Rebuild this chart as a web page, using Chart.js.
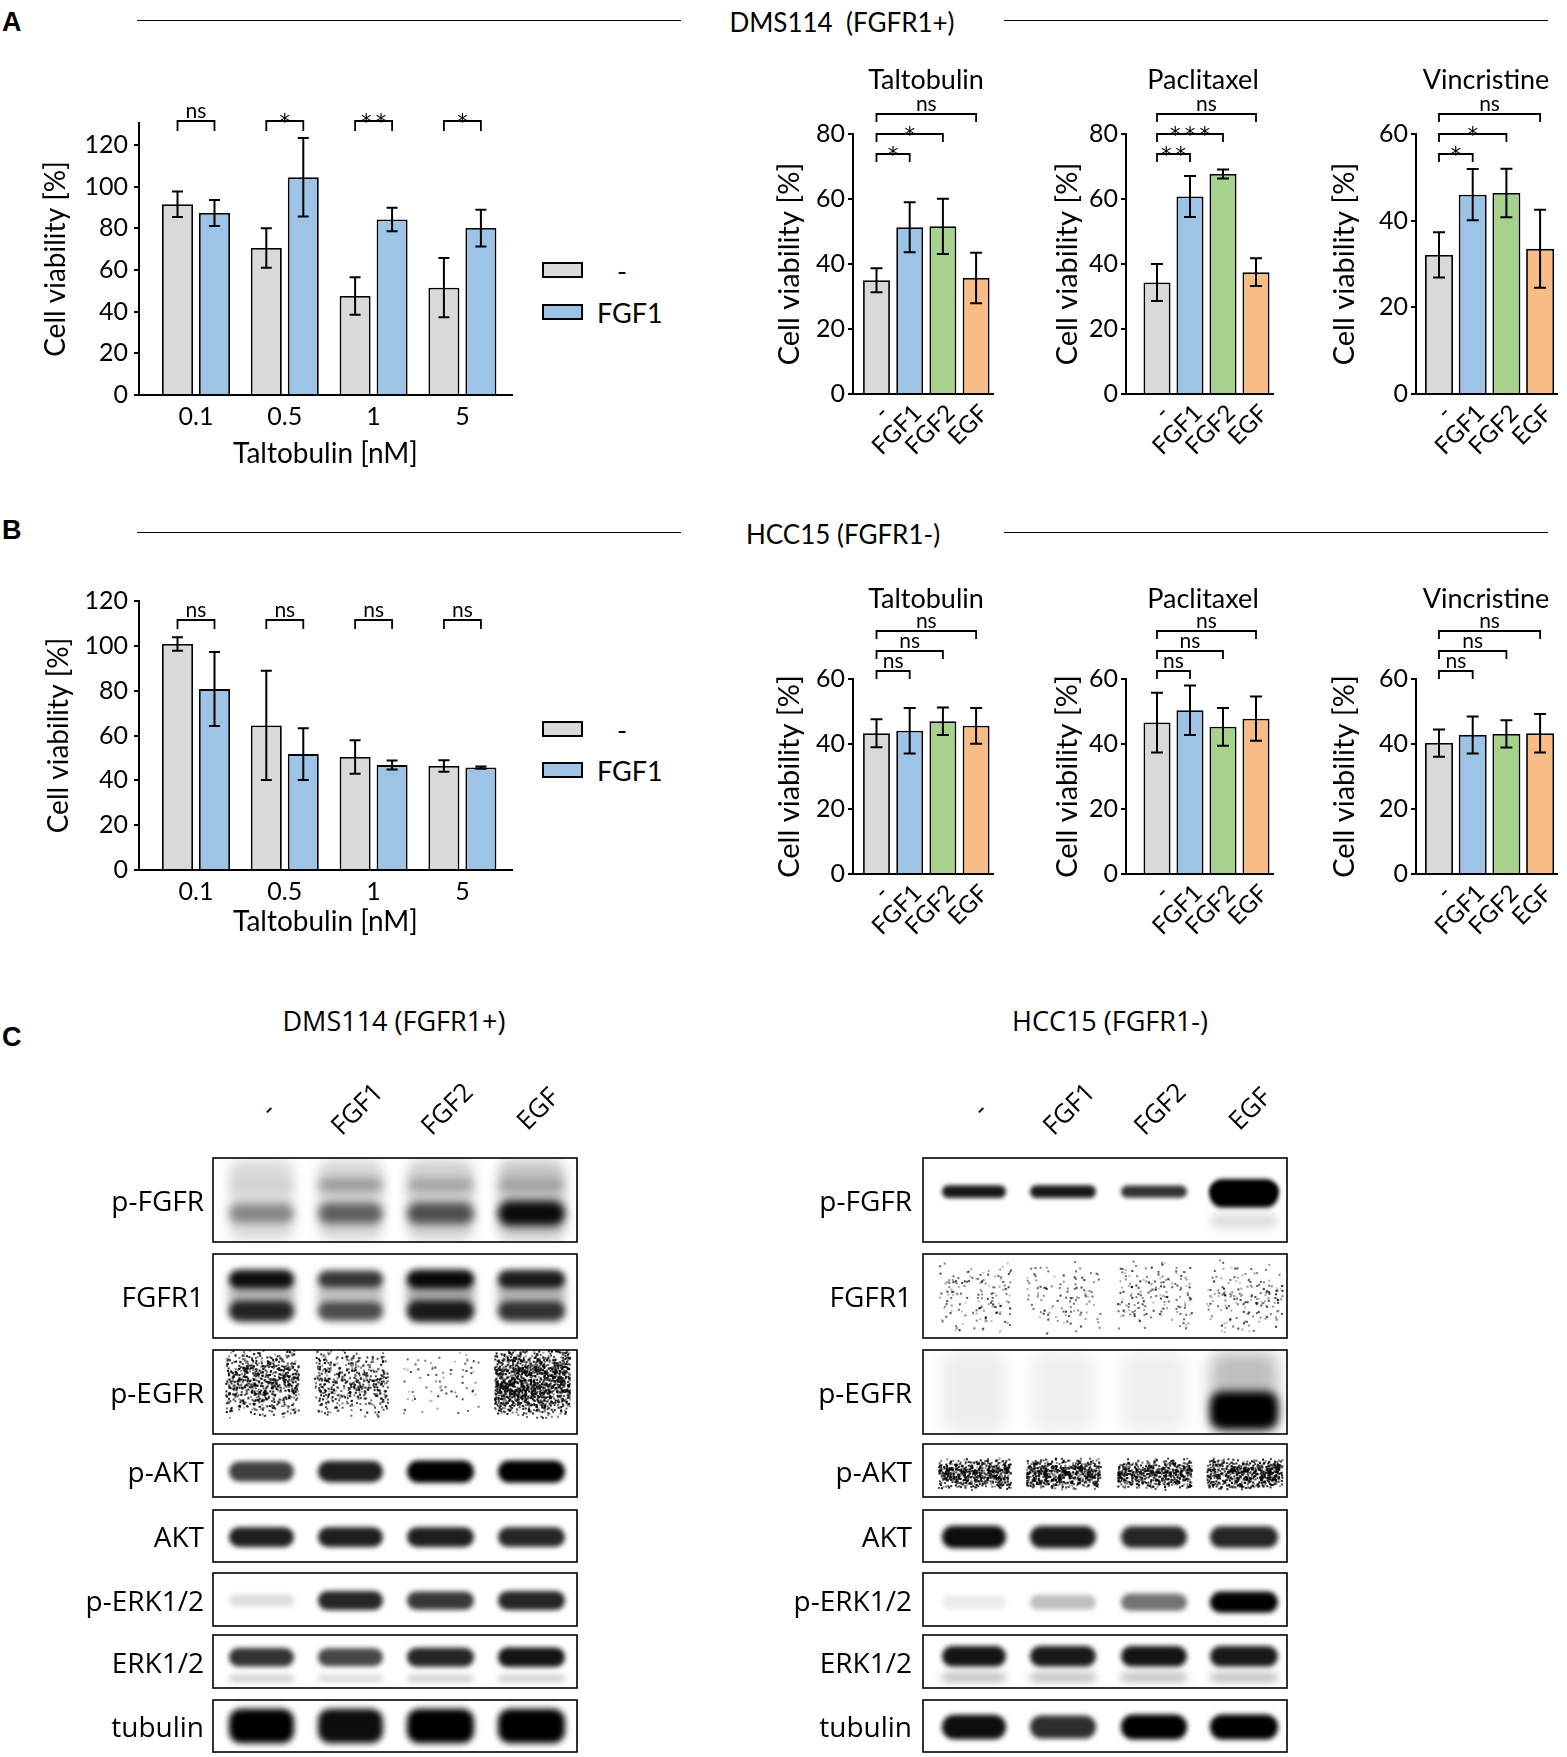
<!DOCTYPE html>
<html>
<head>
<meta charset="utf-8">
<script src="https://cdn.jsdelivr.net/npm/chart.js@4.4.1/dist/chart.umd.min.js"></script>
<style>
  body { margin: 0; background: #fff; }
  #fig { position: relative; width: 1567px; height: 1757px; overflow: hidden; color: #000; font-family: Lato, sans-serif; }
  #fig canvas { position: absolute; }
  .abs { position: absolute; white-space: nowrap; line-height: 1; }
  .rule { position: absolute; height: 0; border-top: 1.5px solid #000; }
  .key { position: absolute; width: 37px; height: 12px; border: 2px solid #000; }
</style>
</head>
<body>
<div id="fig"></div>
<script>
// ---- DATA ----
const doses = ["0.1", "0.5", "1", "5"];
const doseSeries = ["-", "FGF1"];
const factors = ["-", "FGF1", "FGF2", "EGF"];
const ticks120 = [0, 20, 40, 60, 80, 100, 120];
const ticks80 = [0, 20, 40, 60, 80];
const ticks60 = [0, 20, 40, 60];

// A: DMS114, taltobulin dose with / without FGF1
const dmsDoseCtrl = [91.5, 70.5, 47.5, 51.5];
const dmsDoseCtrlErr = [6.1, 9.5, 9.0, 14.2];
const dmsDoseFgf1 = [87.3, 104.5, 84.2, 80.1];
const dmsDoseFgf1Err = [6.2, 18.8, 5.6, 8.8];
const dmsDoseSig = ["ns", "*", "**", "*"];

// B: HCC15, taltobulin dose with / without FGF1
const hccDoseCtrl = [100.8, 64.5, 50.4, 46.4];
const hccDoseCtrlErr = [3.0, 24.4, 7.5, 2.6];
const hccDoseFgf1 = [80.7, 51.7, 46.8, 45.7];
const hccDoseFgf1Err = [16.5, 11.5, 2.0, 0.5];
const hccDoseSig = ["ns", "ns", "ns", "ns"];

// growth factors, DMS114 (sig = FGF1, FGF2, EGF vs -)
const dmsTalt = [35.0, 51.3, 51.6, 35.7];
const dmsTaltErr = [3.7, 7.7, 8.5, 7.8];
const dmsTaltSig = ["*", "*", "ns"];
const dmsPacl = [34.3, 60.8, 67.7, 37.5];
const dmsPaclErr = [5.7, 6.3, 1.4, 4.3];
const dmsPaclSig = ["**", "***", "ns"];
const dmsVinc = [32.1, 46.0, 46.4, 33.5];
const dmsVincErr = [5.2, 5.9, 5.6, 9.0];
const dmsVincSig = ["*", "*", "ns"];

// growth factors, HCC15
const hccTalt = [43.3, 44.1, 47.0, 45.6];
const hccTaltErr = [4.3, 7.0, 4.2, 5.5];
const hccPacl = [46.6, 50.4, 45.3, 47.8];
const hccPaclErr = [9.2, 7.6, 5.8, 6.8];
const hccVinc = [40.3, 42.8, 43.1, 43.3];
const hccVincErr = [4.2, 5.7, 4.2, 5.9];
const hccSig = ["ns", "ns", "ns"];

// C: western blots, band density per lane (-, FGF1, FGF2, EGF)
const blotRows = ["p-FGFR", "FGFR1", "p-EGFR", "p-AKT", "AKT", "p-ERK1/2", "ERK1/2", "tubulin"];
const dmsPFGFR = [[.14, .16, .18, .22], [.38, .55, .62, .95], [.04, .28, .22, .2]];
const dmsFGFR1 = [[.3, .25, .35, .3], [.92, .72, .95, .85], [.8, .6, .85, .72]];
const dmsPEGFR = [[.45, .3, .04, .9]];
const dmsPAKT = [[.75, .88, 1, 1]];
const dmsAKT = [[.88, .88, .88, .85]];
const dmsPERK = [[.12, .85, .78, .85]];
const dmsERK = [[.8, .72, .85, .92], [.22, .18, .22, .22]];
const dmsTub = [[1, .95, 1, 1]];
const hccPFGFR = [[.9, .9, .8, 1], [0, 0, 0, 1], [0, 0, 0, .12]];
const hccFGFR1 = [[.1, .07, .1, .1]];
const hccPEGFR = [[.07, .06, .06, .25], [0, 0, 0, 1]];
const hccPAKT = [[.85, .85, .78, .9]];
const hccAKT = [[.95, .9, .85, .85]];
const hccPERK = [[.08, .25, .55, 1]];
const hccERK = [[.92, .9, .92, .9], [.3, .3, .3, .3]];
const hccTub = [[.95, .82, 1, 1]];

const colors = ["#d9d9d9", "#9dc3e6", "#a9d18e", "#f8bd87"];

// ---- PAGE HELPERS ----
const fig = document.getElementById("fig");
Chart.defaults.font.family = "Lato, sans-serif";
Chart.defaults.color = "#000";

function text(str, x, y, o = {}) {
  const d = document.createElement("div");
  d.className = "abs";
  d.textContent = str;
  d.style.left = x + "px";
  d.style.top = y + "px";
  d.style.fontSize = (o.size || 25) + "px";
  d.style.fontFamily = o.family || "Lato, sans-serif";
  if (o.weight) d.style.fontWeight = o.weight;
  const ax = o.align === "left" ? "0" : o.align === "right" ? "-100%" : "-50%";
  d.style.transform = `translate(${ax},-50%)` + (o.rotate ? ` rotate(${o.rotate}deg)` : "");
  fig.appendChild(d);
}

function rule(x1, x2, y) {
  const d = document.createElement("div");
  d.className = "rule";
  d.style.left = x1 + "px";
  d.style.top = y + "px";
  d.style.width = (x2 - x1) + "px";
  fig.appendChild(d);
}

function addCanvas(area, m) {
  const c = document.createElement("canvas");
  const w = area.r - area.l + m.l + m.r;
  const h = area.b - area.t + m.t + m.b;
  c.width = w; c.height = h;
  c.style.left = (area.l - m.l) + "px";
  c.style.top = (area.t - m.t) + "px";
  c.style.width = w + "px";
  c.style.height = h + "px";
  fig.appendChild(c);
  return c;
}

// error bars + significance brackets
const overlay = {
  id: "overlay",
  afterDatasetsDraw(chart, args, opts) {
    const ctx = chart.ctx, ys = chart.scales.y;
    ctx.save();
    ctx.strokeStyle = "#000";
    ctx.lineWidth = 2;
    chart.data.datasets.forEach((ds, di) => {
      chart.getDatasetMeta(di).data.forEach((bar, i) => {
        const v = ds.data[i].y, e = ds.errors[i];
        const t = ys.getPixelForValue(v + e), b = ys.getPixelForValue(v - e);
        const cw = opts.cap / 2;
        ctx.beginPath();
        ctx.moveTo(bar.x, t); ctx.lineTo(bar.x, b);
        ctx.moveTo(bar.x - cw, t); ctx.lineTo(bar.x + cw, t);
        ctx.moveTo(bar.x - cw, b); ctx.lineTo(bar.x + cw, b);
        ctx.stroke();
      });
    });
    ctx.lineWidth = 1.8;
    ctx.fillStyle = "#000";
    ctx.textAlign = "center";
    ctx.textBaseline = "alphabetic";
    (opts.brackets || []).forEach(br => {
      const x1 = chart.getDatasetMeta(br.from[0]).data[br.from[1]].x;
      const x2 = chart.getDatasetMeta(br.to[0]).data[br.to[1]].x;
      const y = chart.chartArea.top + br.dy;
      ctx.beginPath();
      ctx.moveTo(x1, y + opts.leg); ctx.lineTo(x1, y);
      ctx.lineTo(x2, y); ctx.lineTo(x2, y + opts.leg);
      ctx.stroke();
      if (br.label.includes("*")) {
        ctx.font = "21px 'DejaVu Sans', sans-serif";
        ctx.fillText(br.label.split("").join("\u2009"), (x1 + x2) / 2, y + 8);
      } else {
        ctx.font = "21px Lato, sans-serif";
        ctx.fillText(br.label, (x1 + x2) / 2, y - 3);
      }
    });
    ctx.restore();
  }
};

function barChart(cfg) {
  const canvas = addCanvas(cfg.area, cfg.m);
  const span = cfg.area.r - cfg.area.l;
  const xmin = -(cfg.c0 - cfg.area.l) / cfg.step;
  const xmax = xmin + span / cfg.step;
  return new Chart(canvas, {
    type: "bar",
    data: { datasets: cfg.datasets },
    options: {
      responsive: false,
      animation: false,
      layout: { padding: { left: cfg.pl, top: cfg.m.t, right: cfg.m.r, bottom: 0 } },
      datasets: { bar: { categoryPercentage: cfg.cat, barPercentage: cfg.barP } },
      plugins: {
        legend: { display: false },
        tooltip: { enabled: false },
        overlay: { cap: cfg.cap, leg: cfg.leg, brackets: cfg.brackets }
      },
      scales: {
        x: {
          type: "linear", min: xmin, max: xmax, offset: false,
          afterBuildTicks: s => { s.ticks = cfg.labels.map((l, i) => ({ value: i })); },
          afterFit: s => { s.height = cfg.m.b; },
          ticks: {
            autoSkip: false, padding: cfg.xPad, font: { size: cfg.xFont },
            minRotation: cfg.rot, maxRotation: cfg.rot, labelOffset: cfg.xShift,
            callback: v => cfg.labels[v]
          },
          grid: { display: false, drawTicks: false, tickLength: 0, offset: false },
          border: { display: true, color: "#000", width: 2 },
          title: cfg.xTitle
            ? { display: true, text: cfg.xTitle, font: { size: 28 }, padding: { top: 0, bottom: 0 } }
            : { display: false }
        },
        y: {
          min: 0, max: cfg.yMax,
          afterBuildTicks: s => { s.ticks = cfg.yTicks.map(v => ({ value: v })); },
          afterFit: s => { s.width = cfg.m.l - cfg.pl; },
          ticks: { padding: cfg.yPad, font: { size: 25 } },
          grid: { display: true, drawOnChartArea: false, drawTicks: true, tickLength: 5, color: "#000", lineWidth: 2 },
          border: { display: true, color: "#000", width: 2 },
          title: { display: true, text: "Cell viability [%]", font: { size: cfg.yTitleSize }, padding: { top: 0, bottom: 0 } }
        }
      }
    },
    plugins: [overlay]
  });
}

function bars(vals, errs, color) {
  return {
    data: vals.map((v, i) => ({ x: i, y: v })),
    errors: errs,
    backgroundColor: color,
    borderColor: "#000",
    borderWidth: 1.8
  };
}

// ---- HEADERS ----
text("A", 2, 22, { size: 27, weight: "bold", family: "Liberation Sans, Arial, sans-serif", align: "left" });
text("B", 2, 530, { size: 27, weight: "bold", family: "Liberation Sans, Arial, sans-serif", align: "left" });
text("C", 2, 1037, { size: 27, weight: "bold", family: "Liberation Sans, Arial, sans-serif", align: "left" });
rule(137, 681, 20); rule(1004, 1548, 20);
rule(137, 681, 532); rule(1004, 1548, 532);
text("DMS114\u00a0\u00a0(FGFR1+)", 842, 22, { size: 26 });
text("HCC15 (FGFR1-)", 843, 534, { size: 26 });

// ---- DOSE CHARTS (left) ----
function doseChart(ctrl, ctrlErr, fgf, fgfErr, sig, area, yMax, yTicks, titleX, xTitleB, bracketDy, leg, legendY) {
  const m = { l: 135, t: 40, r: 10, b: xTitleB };
  barChart({
    area, m, pl: titleX - (area.l - m.l) - 14,
    c0: 196, step: 88.8, cat: 0.833, barP: 0.838,
    labels: doses, rot: 0, xPad: 7, xFont: 25, xShift: 0, xTitle: "Taltobulin [nM]",
    yMax, yTicks, yPad: 6, yTitleSize: 28, cap: 11, leg,
    datasets: [bars(ctrl, ctrlErr, colors[0]), bars(fgf, fgfErr, colors[1])],
    brackets: sig.map((s, i) => ({ from: [0, i], to: [1, i], dy: bracketDy, label: s }))
  });
  doseSeries.forEach((name, k) => {
    const key = document.createElement("div");
    key.className = "key";
    key.style.left = "542px";
    key.style.top = (legendY[k] - 8) + "px";
    key.style.background = colors[k];
    fig.appendChild(key);
    if (name === "-") text(name, 622, legendY[k], { size: 27 });
    else text(name, 597, legendY[k], { size: 27, align: "left" });
  });
}
doseChart(dmsDoseCtrl, dmsDoseCtrlErr, dmsDoseFgf1, dmsDoseFgf1Err, dmsDoseSig,
  { l: 139, r: 512, t: 123, b: 395 }, 130.5, ticks120, 53, 76, -2, 10, [270, 312]);
doseChart(hccDoseCtrl, hccDoseCtrlErr, hccDoseFgf1, hccDoseFgf1Err, hccDoseSig,
  { l: 139, r: 512, t: 601, b: 870 }, 120, ticks120, 56, 69, 19, 9, [729, 770]);

// ---- GROWTH FACTOR CHARTS (right) ----
const gfCols = [
  { l: 853, r: 993, c0: 876.5, step: 33.2, barP: 0.81, titleX: 787, ml: 85, title: "Taltobulin", tx: 926 },
  { l: 1126, r: 1273, c0: 1157, step: 33, barP: 0.82, titleX: 1065, ml: 80, title: "Paclitaxel", tx: 1203 },
  { l: 1416, r: 1557, c0: 1439, step: 33.7, barP: 0.83, titleX: 1342, ml: 90, title: "Vincristine", tx: 1486 }
];
const gfRows = [
  { t: 134, b: 394, titleY: 78, mt: 50, dys: [20, 0, -20],
    sets: [[dmsTalt, dmsTaltErr, dmsTaltSig, 80, ticks80], [dmsPacl, dmsPaclErr, dmsPaclSig, 80, ticks80], [dmsVinc, dmsVincErr, dmsVincSig, 60, ticks60]] },
  { t: 679, b: 874, titleY: 597, mt: 75, dys: [-8, -28, -48],
    sets: [[hccTalt, hccTaltErr, hccSig, 60, ticks60], [hccPacl, hccPaclErr, hccSig, 60, ticks60], [hccVinc, hccVincErr, hccSig, 60, ticks60]] }
];
gfRows.forEach(row => {
  gfCols.forEach((col, k) => {
    const [vals, errs, sig, yMax, yTicks] = row.sets[k];
    const area = { l: col.l, r: col.r, t: row.t, b: row.b };
    const m = { l: col.ml, t: row.mt, r: 10, b: 70 };
    const ds = bars(vals, errs, colors);
    barChart({
      area, m, pl: col.titleX - (col.l - col.ml) - 15,
      c0: col.c0, step: col.step, cat: 1, barP: col.barP,
      labels: factors, rot: 45, xPad: 5, xFont: 24, xShift: 8,
      yMax, yTicks, yPad: 3, yTitleSize: 29, cap: 12, leg: 8,
      datasets: [ds],
      brackets: sig.map((s, j) => ({ from: [0, 0], to: [0, j + 1], dy: row.dys[j], label: s }))
    });
    text(col.title, col.tx, row.titleY, { size: 27 });
  });
});

// ---- C: WESTERN BLOTS ----
const rowTop = [1158, 1254, 1350, 1444, 1510, 1573, 1635, 1700];
const rowBot = [1242, 1338, 1434, 1497, 1562, 1626, 1688, 1752];
const panels = [
  {
    box: [213, 577], labelX: 204, head: "DMS114 (FGFR1+)", headX: 394,
    lanes: [[229, 294], [318, 383], [407, 474], [498, 565]],
    dens: [dmsPFGFR, dmsFGFR1, dmsPEGFR, dmsPAKT, dmsAKT, dmsPERK, dmsERK, dmsTub],
    geom: [
      [{ y: .5, h: .95, b: 6 }, { y: .66, h: .3, b: 4 }, { y: .32, h: .22, b: 5 }],
      [{ y: .5, h: .6, b: 5 }, { y: .3, h: .22, b: 3 }, { y: .68, h: .26, b: 3 }],
      [{ y: .38, h: .85, b: .4, grain: true }],
      [{ y: .52, h: .42, b: 2.5 }],
      [{ y: .52, h: .4, b: 2.5 }],
      [{ y: .52, h: .38, b: 2.5 }],
      [{ y: .42, h: .38, b: 2.5 }, { y: .82, h: .16, b: 3 }],
      [{ y: .5, h: .66, b: 3 }]
    ]
  },
  {
    box: [923, 1287], labelX: 912, head: "HCC15 (FGFR1-)", headX: 1110,
    lanes: [[942, 1006], [1030, 1096], [1121, 1187], [1210, 1278]],
    dens: [hccPFGFR, hccFGFR1, hccPEGFR, hccPAKT, hccAKT, hccPERK, hccERK, hccTub],
    geom: [
      [{ y: .4, h: .16, b: 2 }, { y: .42, h: .34, b: 2 }, { y: .75, h: .3, b: 5 }],
      [{ y: .5, h: .9, b: .3, grain: true }],
      [{ y: .5, h: .95, b: 8 }, { y: .72, h: .45, b: 4 }],
      [{ y: .55, h: .6, b: .3, grain: true }],
      [{ y: .52, h: .44, b: 2.5 }],
      [{ y: .55, h: .4, b: 2.5 }],
      [{ y: .4, h: .4, b: 2.5 }, { y: .8, h: .2, b: 4 }],
      [{ y: .52, h: .48, b: 2.5 }]
    ]
  }
];

const blotTop = 1140;
const blot = addCanvas({ l: 0, r: 1567, t: blotTop, b: 1757 }, { l: 0, r: 0, t: 0, b: 0 });
const bctx = blot.getContext("2d");
// fixed hash used only for film grain texture
const hash = k => { const s = Math.sin(k * 12.9898) * 43758.5453; return s - Math.floor(s); };

panels.forEach((p, pi) => {
  text(p.head, p.headX, 1020, { size: 27, family: "Open Sans, sans-serif" });
  p.lanes.forEach((ln, i) => {
    text(factors[i], (ln[0] + ln[1]) / 2 + 5, 1108, { size: 26, family: "Open Sans, sans-serif", rotate: -45 });
  });
  blotRows.forEach((name, r) => {
    const top = rowTop[r] - blotTop, bot = rowBot[r] - blotTop, H = bot - top;
    text(name, p.labelX, (rowTop[r] + rowBot[r]) / 2, { size: 28, family: "Open Sans, sans-serif", align: "right" });
    bctx.save();
    bctx.fillStyle = "#fff";
    bctx.fillRect(p.box[0], top, p.box[1] - p.box[0], H);
    bctx.beginPath();
    bctx.rect(p.box[0], top, p.box[1] - p.box[0], H);
    bctx.clip();
    p.geom[r].forEach((g, gi) => {
      p.lanes.forEach((ln, li) => {
        const d = p.dens[r][gi][li];
        if (d <= 0.01) return;
        const bh = g.h < 0.6 ? g.h * H * (0.6 + 0.4 * d) : g.h * H;
        const cy = top + g.y * H;
        const w = ln[1] - ln[0];
        bctx.filter = `blur(${g.b}px)`;
        if (g.grain) {
          const n = Math.round(w * bh / 2.2);
          const seed = (pi * 97 + r * 31 + li * 7) * 1000;
          for (let k = 0; k < n; k++) {
            const u = hash(seed + k * 3 + 1), v = hash(seed + k * 3 + 2), q = hash(seed + k * 3 + 3);
            const core = 1 - Math.pow(Math.abs(2 * v - 1), 1.5);
            if (q > d * core * 1.3) continue;
            const a = (d < 0.2 ? 0.2 : 0.35) + 0.6 * hash(seed + k * 5 + 4);
            bctx.fillStyle = `rgba(0,0,0,${a.toFixed(2)})`;
            bctx.fillRect(ln[0] - 4 + u * (w + 8), cy + (v - 0.5) * bh, 2, 2);
          }
        } else {
          bctx.fillStyle = `rgba(0,0,0,${d})`;
          bctx.beginPath();
          bctx.roundRect(ln[0], cy - bh / 2, w, bh, Math.min(bh / 2, 12));
          bctx.fill();
        }
      });
    });
    bctx.restore();
    bctx.filter = "none";
    bctx.strokeStyle = "#000";
    bctx.lineWidth = 1.6;
    bctx.strokeRect(p.box[0], top, p.box[1] - p.box[0], H);
  });
});
</script>
</body>
</html>
